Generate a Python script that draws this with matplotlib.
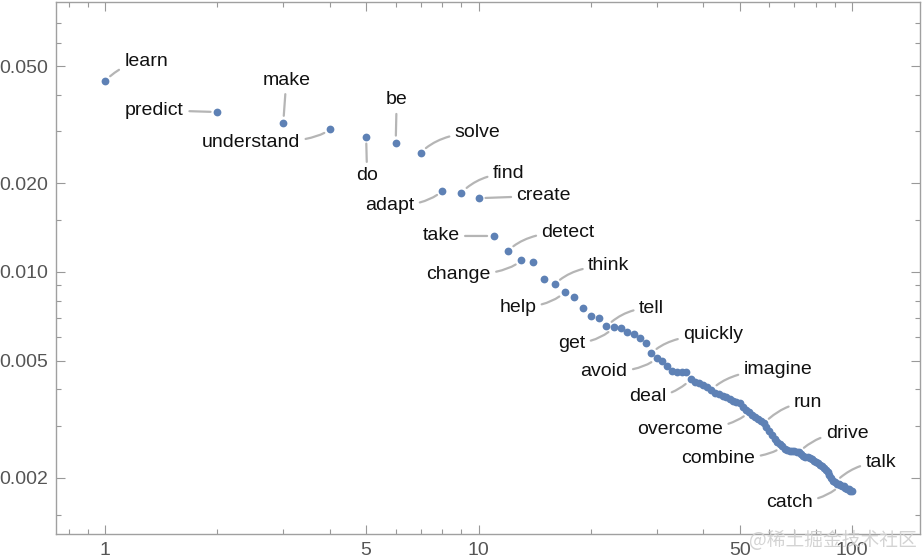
import matplotlib.pyplot as plt
import numpy as np

plt.rcParams['font.family'] = ['Liberation Sans', 'DejaVu Sans']

# word frequency by rank
ranks = np.arange(1, 101)
freqs = [
    0.0445, 0.0349, 0.0321, 0.0306, 0.0288, 0.0275, 0.0254, 0.0189, 0.0186, 0.0178,
    0.01325, 0.0118, 0.01096, 0.01079, 0.00949, 0.00908, 0.00855, 0.00825, 0.00756, 0.00709,
    0.00696, 0.00653, 0.00648, 0.00647, 0.00627, 0.00616, 0.00597, 0.00576, 0.00529, 0.00511,
    0.00497, 0.00480, 0.00461, 0.00459, 0.00459, 0.00459, 0.00432, 0.00424, 0.00419, 0.00414,
    0.00406, 0.00398, 0.00389, 0.00384, 0.00380, 0.00375, 0.00371, 0.00366, 0.00362, 0.00358,
    0.00348, 0.00340, 0.00335, 0.00327, 0.00322, 0.00317, 0.00312, 0.00306, 0.00298, 0.00289,
    0.00280, 0.00271, 0.00265, 0.00260, 0.00256, 0.00251, 0.00248, 0.00246, 0.00246, 0.00246,
    0.00245, 0.00244, 0.00241, 0.00238, 0.00236, 0.00235, 0.00233, 0.00231, 0.00229, 0.00227,
    0.00225, 0.00222, 0.00220, 0.00216, 0.00213, 0.00209, 0.00205, 0.00200, 0.00195, 0.00193,
    0.00191, 0.00190, 0.00189, 0.00188, 0.00187, 0.00185, 0.00184, 0.00183, 0.00181, 0.00180,
]

words = ["learn", "predict", "make", "understand", "do", "be", "solve", "adapt",
         "find", "create", "take", "detect", "change", "think", "help", "tell",
         "get", "quickly", "avoid", "deal", "imagine", "overcome", "run",
         "combine", "drive", "talk", "catch"]
word_ranks = [1, 2, 3, 4, 5, 6, 7, 8, 9, 10, 11, 12, 13, 16, 17, 22, 23, 29, 30,
              37, 42, 53, 58, 65, 72, 90, 93]

xticks = [1, 5, 10, 50, 100]
xtick_labels = ["1", "5", "10", "50", "100"]
yticks = [0.002, 0.005, 0.01, 0.02, 0.05]
ytick_labels = ["0.002", "0.005", "0.010", "0.020", "0.050"]

# label placement: offset in points from the point, and leader type
layout = {
    "learn": (29.5, 13.7, "c"), "predict": (-45.4, 1.4, "s"), "make": (2.2, 30.7, "s"),
    "understand": (-56.9, -10.1, "c"), "do": (0.7, -28.3, "s"), "be": (0.7, 30.7, "s"),
    "solve": (41, 14.2, "c"), "adapt": (-37.9, -11, "c"), "find": (34, 13.5, "c"),
    "create": (47, 1.7, "s"), "take": (-38.2, 0, "s"), "detect": (43.2, 13.5, "c"),
    "change": (-45.1, -10.6, "c"), "think": (38.9, 13.2, "c"), "help": (-33.8, -10.8, "c"),
    "tell": (32.4, 13.3, "c"), "get": (-30.2, -11.2, "c"), "quickly": (44.6, 13.3, "c"),
    "avoid": (-38, -10, "c"), "deal": (-31, -12.6, "c"), "imagine": (48, 14.4, "c"),
    "overcome": (-49.7, -13, "c"), "run": (32, 14.8, "c"), "combine": (-46, -9, "c"),
    "drive": (34.8, 14, "c"), "talk": (33, 14.2, "c"), "catch": (-36.7, -12.2, "c"),
}

fig = plt.figure(figsize=(9.22, 5.58), dpi=100)
ax = fig.add_axes([56 / 922, 24 / 558, 864 / 922, 532.5 / 558])
ax.set_xscale("log")
ax.set_yscale("log")

ax.plot(ranks, freqs, "o", color="#5E81B5", ms=5.6, mec="none", zorder=3)

for w, r in zip(words, word_ranks):
    dx, dy, kind = layout[w]
    if kind == "s":
        cs = "arc3,rad=0"
    else:
        cs = "angle3,angleA=0,angleB=45"
    ax.annotate(w, xy=(r, freqs[r - 1]), xytext=(dx, dy), textcoords="offset points",
                ha="center", va="center", fontsize=14, color="#111111",
                arrowprops=dict(arrowstyle="-", color="#b5b5b5", lw=1.6,
                                shrinkA=2, shrinkB=5, connectionstyle=cs))

ax.set_xlim(0.739, 152)
ax.set_ylim(0.00129, 0.0828)

ax.set_xticks(xticks)
ax.set_xticklabels(xtick_labels)
ax.set_xticks([0.8, 0.9, 2, 3, 4, 6, 7, 8, 9, 20, 30, 40, 60, 70, 80, 90], minor=True)
ax.set_yticks(yticks)
ax.set_yticklabels(ytick_labels)
ax.set_yticks([0.0015, 0.003, 0.004, 0.006, 0.007, 0.008, 0.009, 0.015,
               0.03, 0.04, 0.06, 0.07], minor=True)
ax.xaxis.set_minor_formatter(plt.NullFormatter())
ax.yaxis.set_minor_formatter(plt.NullFormatter())

ax.tick_params(which="both", direction="in", top=True, right=True,
               color="#999999", labelcolor="#555555", labelsize=14, width=0.8)
ax.tick_params(which="major", length=6.5, pad=6)
ax.tick_params(which="minor", length=3.6)
for s in ax.spines.values():
    s.set_color("#a0a0a0")
    s.set_linewidth(1)

fig.text(0.9946, 0.032, "@稀土掘金技术社区", ha="right", va="center", fontsize=13.5,
         color="#cfcfcf", family=["Noto Sans CJK SC"], alpha=0.9)

fig.savefig("out.png", dpi=100)
